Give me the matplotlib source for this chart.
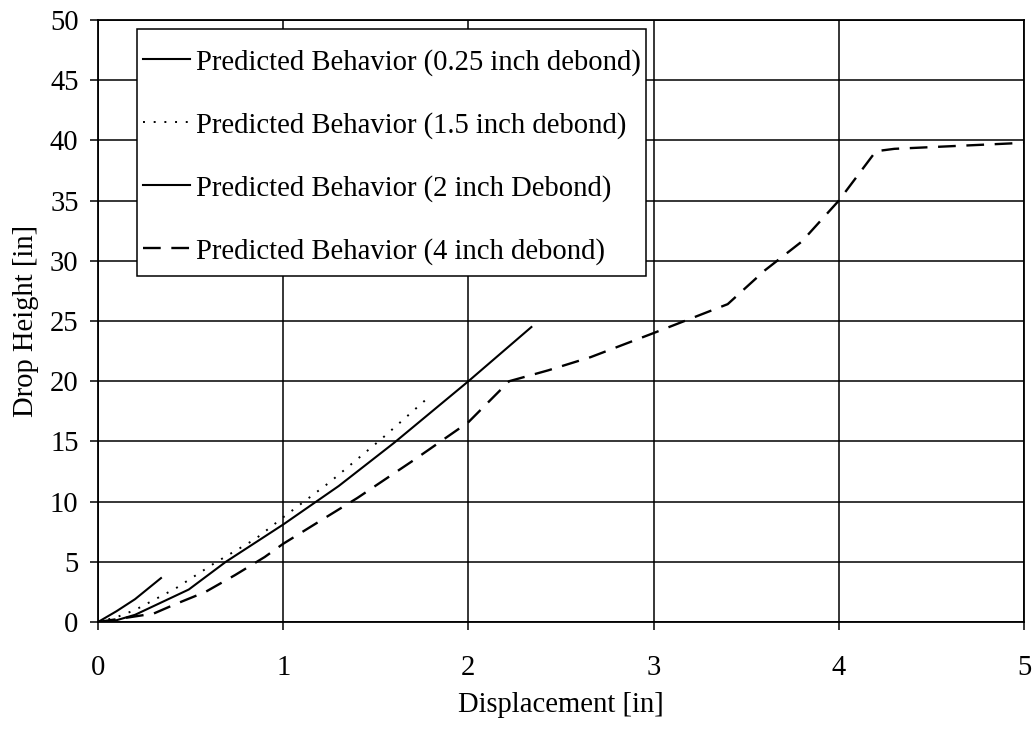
"""
Drop height vs. displacement for several predicted debond lengths.
"""
import numpy as np
import matplotlib.pyplot as plt
from matplotlib.patches import Rectangle

plt.rcParams['font.family'] = ['Liberation Serif', 'DejaVu Serif']

# 0.25 inch debond
disp_025 = [0.0, 0.1, 0.2, 0.34]
drop_025 = [0.0, 0.9, 1.9, 3.65]

# 1.5 inch debond
disp_15 = [0.0, 0.1, 0.2, 0.42, 0.63, 0.85, 1.0, 1.25, 1.53, 1.78]
drop_15 = [0.0, 0.4, 1.0, 2.8, 4.9, 6.9, 8.7, 11.6, 15.2, 18.6]

# 2 inch debond
disp_2 = [0.0, 0.1, 0.2, 0.49, 0.69, 1.0, 1.3, 1.6, 2.0, 2.34]
drop_2 = [0.0, 0.15, 0.6, 2.7, 5.0, 8.1, 11.3, 14.9, 20.0, 24.5]

# 4 inch debond
disp_4 = [0.0, 0.3, 0.42, 0.58, 0.74, 0.9, 1.0, 1.21, 1.4, 1.71, 2.0, 2.22,
          2.43, 2.66, 3.0, 3.2, 3.4, 3.6, 3.8, 4.0, 4.2, 4.3, 5.0]
drop_4 = [0.0, 0.7, 1.5, 2.5, 3.9, 5.4, 6.5, 8.5, 10.3, 13.5, 16.6, 20.0,
          20.9, 22.0, 24.0, 25.2, 26.4, 29.2, 31.6, 35.0, 39.1, 39.3, 39.8]

labels = ['Predicted Behavior (0.25 inch debond)',
          'Predicted Behavior (1.5 inch debond)',
          'Predicted Behavior (2 inch Debond)',
          'Predicted Behavior (4 inch debond)']

FS = 20.6

fig = plt.figure(figsize=(10.35, 7.35), dpi=100)
ax = fig.add_axes([0.0947, 0.1537, 0.8947, 0.8191])

ax.plot(disp_025, drop_025, color='black', lw=1.5, label=labels[0])
ax.plot(disp_15, drop_15, color='black', lw=1.4, dashes=(1, 4.5), label=labels[1])
ax.plot(disp_2, drop_2, color='black', lw=1.5, label=labels[2])
ax.plot(disp_4, drop_4, color='black', lw=1.7, dashes=(7.5, 4.5), label=labels[3])

ax.set_xlim(0, 5)
ax.set_ylim(0, 50)
ax.set_xticks(np.arange(0, 6, 1))
ax.set_yticks(np.arange(0, 55, 5))
ax.grid(True, color='black', lw=1.1)
ax.set_axisbelow(True)
for s in ax.spines.values():
    s.set_linewidth(1.3)
ax.tick_params(direction='out', length=6, width=1.1, labelsize=FS)
ax.tick_params(axis='x', pad=18)
ax.tick_params(axis='y', pad=8)

ax.set_xlabel('Displacement [in]', fontsize=FS, labelpad=8)
ax.set_ylabel('Drop Height [in]', fontsize=FS, labelpad=8)

# legend box: white panel with a thin black border, entries placed inside it
box = Rectangle((0.0421, 0.5748), 0.5497, 0.4102, transform=ax.transAxes,
                facecolor='white', edgecolor='black', lw=1.1, zorder=4)
ax.add_patch(box)

leg = ax.legend(loc='upper left', bbox_to_anchor=(0.0486, 0.952), fontsize=FS,
                handlelength=1.65, handletextpad=0.21, labelspacing=1.26,
                borderpad=0, borderaxespad=0, frameon=False)
leg.set_zorder(5)

fig.savefig('out.png', dpi=100)
